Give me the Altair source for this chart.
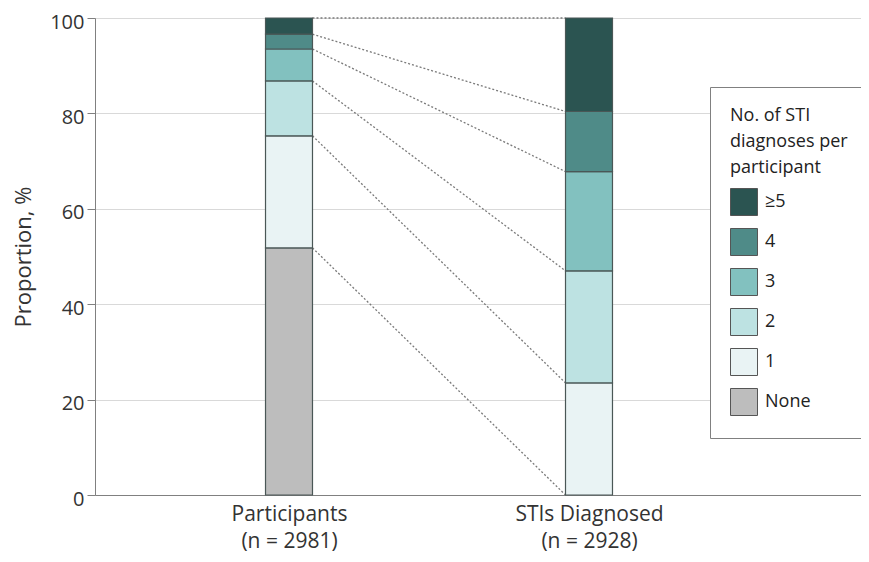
import altair as alt
import pandas as pd

# ---- data ----
categories = ["None", "1", "2", "3", "4", "≥5"]
participants = [51.8, 23.5, 11.5, 6.7, 3.1, 3.4]
stis_diagnosed = [0.0, 23.5, 23.5, 20.8, 12.6, 19.6]
group_names = ["Participants", "STIs Diagnosed"]
group_n = ["(n = 2981)", "(n = 2928)"]
colors = ["#bdbdbd", "#e9f3f4", "#bde2e2", "#82c1bf", "#4f8b88", "#2b5451"]
legend_title = ["No. of STI", "diagnoses per", "participant"]

FONT = "Open Sans"
HW = 0.0783  # half bar width in x units

rows = []
tops = []
for gi, (gname, vals) in enumerate(zip(group_names, [participants, stis_diagnosed])):
    base = 0.0
    t = []
    for cat, v in zip(categories, vals):
        top = round(base + v, 2)
        if v > 0:
            rows.append({"group": gname, "pos": gi + 1, "cat": cat, "y0": round(base, 2), "y1": top})
        t.append(top)
        base = top
    tops.append(t)
bars_df = pd.DataFrame(rows)

conn_df = pd.DataFrame({
    "pa": [1] * len(categories),
    "pb": [2] * len(categories),
    "ya": tops[0],
    "yb": tops[1],
})

label_expr = "datum.value == 1 ? {} : {}".format(
    "['%s', '%s']" % (group_names[0], group_n[0]),
    "['%s', '%s']" % (group_names[1], group_n[1]),
)

xs = alt.Scale(domain=[0.3533, 2.9067], nice=False, zero=False)
ys = alt.Scale(domain=[0, 100], nice=False)

x_axis = alt.Axis(
    values=[1, 2], labelExpr=label_expr, title=None, grid=False, ticks=False,
    labelFontSize=21, labelColor="#333333", labelPadding=8, labelLineHeight=27,
    domainColor="#808080", labelFont=FONT,
)
y_axis = alt.Axis(
    values=[0, 20, 40, 60, 80, 100], title="Proportion, %", grid=True,
    gridColor="#d9d9d9", gridWidth=1, domainColor="#808080", tickColor="#808080",
    tickSize=8, labelFontSize=20, labelColor="#333333", labelPadding=3, labelOffset=4,
    titleFontSize=22, titleFontWeight="normal", titleColor="#333333", titlePadding=14,
    labelFont=FONT, titleFont=FONT,
)

connectors = alt.Chart(conn_df).transform_calculate(
    xa=f"datum.pa + {HW}", xb=f"datum.pb - {HW}"
).mark_rule(color="#7a7a7a", strokeWidth=1.3, strokeDash=[2, 2]).encode(
    x=alt.X("xa:Q", scale=xs, axis=x_axis),
    x2="xb:Q",
    y=alt.Y("ya:Q", scale=ys, axis=y_axis),
    y2="yb:Q",
)

bars = alt.Chart(bars_df).transform_calculate(
    xa=f"datum.pos - {HW}", xb=f"datum.pos + {HW}"
).mark_rect(stroke="#4a5756", strokeWidth=1.2).encode(
    x=alt.X("xa:Q", scale=xs, axis=x_axis),
    x2="xb:Q",
    y=alt.Y("y0:Q", scale=ys, axis=y_axis),
    y2="y1:Q",
    color=alt.Color(
        "cat:N",
        scale=alt.Scale(domain=categories[::-1], range=colors[::-1]),
        legend=alt.Legend(
            title=legend_title, orient="none", legendX=615, legendY=69,
            fillColor="white", strokeColor="#808080", padding=20,
            titleFontSize=18, titleFontWeight="normal", titleColor="#222222",
            titleLineHeight=26, titlePadding=11, titleFont=FONT,
            labelFontSize=18, labelColor="#222222", labelFont=FONT, labelOffset=7,
            symbolType="square", symbolSize=729, symbolStrokeColor="#555555",
            symbolStrokeWidth=1, symbolOpacity=1, rowPadding=8,
        ),
    ),
)

chart = alt.layer(connectors, bars).properties(
    width=766, height=477,
    autosize=alt.AutoSizeParams(type="none"),
    padding={"left": 87, "top": 10, "right": 0, "bottom": 60},
    background="white",
).configure_view(stroke=None).configure(font=FONT)

chart.save("out.html", embed_options={"renderer": "svg", "actions": False})
